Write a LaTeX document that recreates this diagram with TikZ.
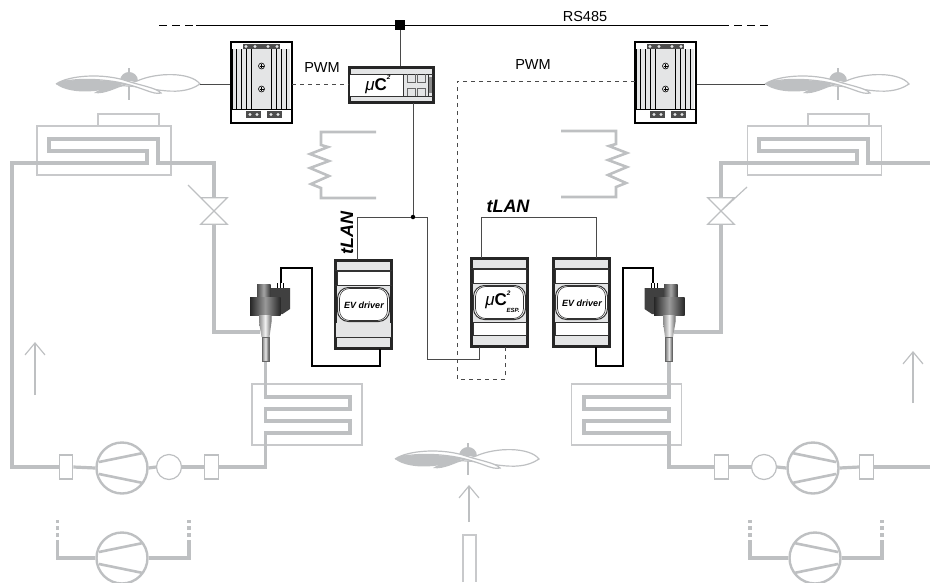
\documentclass[tikz,border=0pt]{standalone}
\usepackage{fontspec}
\setmainfont{Liberation Sans}
\usetikzlibrary{arrows.meta}
\definecolor{pipegray}{HTML}{BEC0C2}
\definecolor{casegray}{HTML}{E4E5E6}
\definecolor{wiregray}{HTML}{4A4A4A}
\tikzset{
    pipe/.style={draw=pipegray,line width=3.2pt,line join=miter},
    pipedash/.style={draw=pipegray,line width=3.2pt,dash pattern=on 4pt off 3pt},
    thinpipe/.style={draw=pipegray,line width=1.2pt},
    coilbox/.style={draw=pipegray!85,line width=1.2pt,inner sep=0pt},
    filterbox/.style={draw=pipegray,fill=white,line width=1.2pt,inner sep=0pt,minimum width=13.5,minimum height=24},
    ballbox/.style={circle,draw=pipegray,fill=white,line width=1.2pt,inner sep=0pt,minimum size=25},
    compbox/.style={circle,draw=pipegray,fill=white,line width=2.4pt,inner sep=0pt,minimum size=51},
    valvebox/.style={inner sep=0pt,minimum width=26,minimum height=26},
    flowarrow/.style={draw=pipegray,line width=1.2pt,-{Straight Barb[length=12pt,width=20pt,line width=1.2pt]}},
    wire/.style={draw=black,line width=1.1pt},
    bus/.style={draw=wiregray,line width=1pt},
    pwmline/.style={draw=wiregray,line width=1pt,dash pattern=on 4pt off 4pt},
    casebox/.style={draw=black!85,line width=2.2pt,fill=casegray,inner sep=0pt,minimum width=56,minimum height=88},
    casewin/.style={draw=black!80,line width=.8pt,fill=white},
    txt/.style={inner sep=0pt,font=\fontsize{14.5}{16}\selectfont},
    tlan/.style={inner sep=0pt,font=\fontsize{18}{20}\selectfont\bfseries\itshape},
    evtxt/.style={inner sep=0pt,font=\fontsize{9}{10}\selectfont\bfseries\itshape},
}
\newcommand{\mucname}{\textit{μ}\textbf{C}\raisebox{.62em}{\fontsize{6.5}{7}\selectfont\bfseries\itshape 2}}
\newcommand{\drawfan}[2]{%
    \begin{scope}[shift={(#2)}]
        \draw[thinpipe] (0,-16) -- (0,16);
        \fill[pipegray] (-9,-3) .. controls (-9,-9) and (-4,-12) .. (0,-12) .. controls (4,-12) and (9,-9) .. (9,-3) -- cycle;
        \fill[pipegray] (-73,0) .. controls (-60,-6) and (-30,-5) .. (-4,-1) .. controls (-22,8) and (-58,12) .. (-73,0) -- cycle;
        \fill[pipegray] (-35,9) .. controls (-28,4) and (-15,2) .. (0,0) .. controls (-12,3) and (-24,11) .. (-35,9) -- cycle;
        \draw[thinpipe,fill=white] (-10,2) .. controls (15,0) and (48,16) .. (71,0) .. controls (62,-12) and (28,-12) .. (8,-3) -- (-10,2) -- cycle;
        \draw[thinpipe,fill=white] (-73,0) .. controls (-60,-9) and (-25,-11) .. (-2,-3) .. controls (10,1) and (28,4) .. (32,9) .. controls (24,11) and (15,4) .. (-7,-1) .. controls (-30,-6) and (-60,-6) .. (-73,0) -- cycle;
        \coordinate (#1w) at (-73,0);
        \coordinate (#1e) at (71,0);
    \end{scope}}
\newcommand{\drawcomp}[4]{%
    \begin{scope}[shift={(#2,#3)},xscale=#4]
        \node[compbox] (#1) at (0,0) {};
        \draw[pipe,line width=2.6pt] (-23,-6) -- (21,-15);
        \draw[pipe,line width=2.6pt] (-23,6) -- (21,15);
    \end{scope}}
\newcommand{\drawpwm}[2]{%
    \begin{scope}[shift={(#2,42)}]
        \node[draw=black,fill=white,line width=1.8pt,inner sep=0pt,minimum width=61,minimum height=81] (#1) at (30.5,40.5) {};
        \fill[casegray] (2,7) rectangle (59,67);
        \foreach \fx in {1.5,5.7,10.7,15.7,20.7,40,45.7,50.7,55.7}
            \draw[black,line width=.6pt] (\fx,7) -- (\fx,67);
        \draw[black,line width=1pt] (1,67) -- (60,67);
        \fill[black!70] (12,2) rectangle (49,7);
        \fill[black!70] (15,69) rectangle (30,76);
        \fill[black!70] (36,69) rectangle (51,76);
        \foreach \sx/\sy in {15/4.5,24/4.5,37/4.5,46/4.5,19/72.5,26/72.5,40/72.5,47/72.5}
            \fill[casegray] (\sx,\sy) circle[radius=1.7];
        \foreach \sy in {24,47}{
            \draw[black,line width=.6pt] (30.5,\sy) circle[radius=3];
            \draw[black,line width=.6pt] (28.5,\sy) -- (32.5,\sy) (30.5,\sy-2) -- (30.5,\sy+2);
        }
    \end{scope}}
\newcommand{\drawcase}[3]{%
    \begin{scope}[shift={(#2,#3)}]
        \node[casebox] (#1) at (28.5,44.5) {};
        \draw[casewin] (2,11) rectangle (55,25);
        \draw[casewin,fill=white,rounded corners=11pt,line width=1pt] (2.5,27.5) rectangle (54.5,61.5);
        \draw[casewin,fill=white,rounded corners=10pt,line width=.6pt] (4.5,28.5) rectangle (52.5,60.5);
        \draw[black!80,line width=.8pt] (0,25.5) -- (57,25.5) (0,10) -- (57,10);
    \end{scope}}
\newcommand{\drawexv}[3]{%
    \begin{scope}[shift={(#2,0)},xscale=#3]
        \draw[black,line width=.7pt] (12,288) -- (12,282.5) (15,288) -- (15,282.5) (18,288) -- (18,282.5);
        \fill[black!75] (4,288) -- (24.5,288) -- (24.5,309) -- (17,314) -- (4,314) -- cycle;
        \shade[left color=black!70,right color=black!80,middle color=black!35] (-8.5,284) rectangle (5,297);
        \shade[left color=black!85,right color=black!85,middle color=black!40] (-15.5,297) rectangle (15,315);
        \shade[left color=black!45,right color=black!60,middle color=black!5] (-6.5,315) -- (6,315) -- (6,322) -- (4,337) -- (-4,337) -- (-6.5,322) -- cycle;
        \node[draw=black!60,line width=.7pt,left color=black!50,right color=black!70,middle color=black!10,inner sep=0pt,minimum width=7,minimum height=24.5] (#1) at (0,349.5) {};
    \end{scope}}
\begin{document}
    \begin{tikzpicture}[x=1pt,y=-1pt]
        \useasboundingbox (0,0) rectangle (930,582);
        \clip (0,0) rectangle (930,582);
        \node[coilbox,minimum width=134,minimum height=49] (condL) at (104,150.5) {};
        \node[coilbox,minimum width=61,minimum height=12] (condLtop) at (128.5,120) {};
        \node[coilbox,minimum width=134,minimum height=49] (condR) at (814.5,150.5) {};
        \node[coilbox,minimum width=61,minimum height=12] (condRtop) at (838.5,120) {};
        \node[coilbox,minimum width=110,minimum height=61] (evapL) at (307,414.5) {};
        \node[coilbox,minimum width=110,minimum height=61] (evapR) at (626.5,414.5) {};
        \node[valvebox] (valveL) at (214,211) {};
        \node[valvebox] (valveR) at (721,211) {};
        \draw[thinpipe] (valveL.north west) -- (valveL.north east) -- (valveL.south west) -- (valveL.south east) -- cycle (188,185) -- (valveL.center);
        \draw[thinpipe] (valveR.north west) -- (valveR.north east) -- (valveR.south west) -- (valveR.south east) -- cycle (747,187) -- (valveR.center);

        \drawcomp{compL}{122}{468}{1}
        \drawcomp{compR}{813}{468}{-1}
        \drawcomp{compLb}{122}{558}{1}
        \drawcomp{compRb}{815}{558}{-1}
        \node[filterbox] (filtLa) at (66,467) {};
        \node[filterbox] (filtLb) at (211.5,467) {};
        \node[ballbox] (ballL) at (169,467) {};
        \node[filterbox] (filtRa) at (721.5,467) {};
        \node[filterbox] (filtRb) at (866.5,467) {};
        \node[ballbox] (ballR) at (764,467) {};
        \drawexv{stemL}{265.5}{1}
        \drawexv{stemR}{669}{-1}

        \draw[pipe] (filtLa.west) -- (12,467) -- (12,163) -- (147,163) -- (147,151) -- (49,151) -- (49,139) -- (158,139) -- (158,163) -- (214,163) -- (valveL.north);
        \draw[pipe] (valveL.south) -- (214,332) -- (230,332);
        \draw[pipe,line width=4.5pt] (230,332) -- (260,332);
        \draw[pipe] (stemL.south) -- (265.5,397) -- (350,397) -- (350,409) -- (265.5,409) -- (265.5,421) -- (350,421) -- (350,433) -- (265.5,433) -- (265.5,467) -- (filtLb.east);
        \draw[pipe] (filtLb.west) -- (ballL.east);
        \draw[pipe] (ballL.west) -- (compL.east);
        \draw[pipe] (compL.west) -- (filtLa.east);
        \draw[pipe] (930,163) -- (868,163) -- (868,139) -- (759,139) -- (759,151) -- (857,151) -- (857,163) -- (721,163) -- (valveR.north);
        \draw[pipe] (valveR.south) -- (721,332) -- (705,332);
        \draw[pipe,line width=4.5pt] (705,332) -- (674,332);
        \draw[pipe] (stemR.south) -- (669,397) -- (584,397) -- (584,409) -- (669,409) -- (669,421) -- (584,421) -- (584,433) -- (669,433) -- (669,467) -- (filtRa.west);
        \draw[pipe] (filtRa.east) -- (ballR.west);
        \draw[pipe] (ballR.east) -- (compR.west);
        \draw[pipe] (compR.east) -- (filtRb.west);
        \draw[pipe] (filtRb.east) -- (930,467);

        \draw[pipe] (compLb.west) -- (57.5,558) -- (57.5,544);
        \draw[pipedash] (57.5,544) -- (57.5,520);
        \draw[pipe] (compLb.east) -- (189,558) -- (189,544);
        \draw[pipedash] (189,544) -- (189,520);
        \draw[pipe] (compRb.west) -- (750,558) -- (750,544);
        \draw[pipedash] (750,544) -- (750,520);
        \draw[pipe] (compRb.east) -- (882,558) -- (882,544);
        \draw[pipedash] (882,544) -- (882,520);

        \draw[pipe,line width=2.6pt] (376,132) -- (321,132) -- (321,145) -- (328,147) -- (310,154) -- (329,161) -- (310,168) -- (329,176) -- (311,184) -- (321,188) -- (321,198) -- (376,198);
        \draw[pipe,line width=2.6pt] (561,131) -- (616,131) -- (616,144) -- (609,146) -- (627,153) -- (608,160) -- (627,167) -- (608,175) -- (626,183) -- (616,187) -- (616,197) -- (561,197);

        \draw[flowarrow] (35,395) -- (35,342);
        \draw[flowarrow] (913,403) -- (913,351);
        \draw[flowarrow] (469,522) -- (469,485);
        \draw[coilbox] (463,582) -- (463,535) -- (476,535) -- (476,582);

        \drawfan{fanL}{129,84}
        \drawfan{fanR}{838,84}
        \drawfan{fanC}{468,459}

        \draw[black,line width=.9pt,dash pattern=on 8pt off 5pt] (159,25) -- (193,25);
        \draw[black,line width=.9pt] (196,25) -- (729,25);
        \draw[black,line width=.9pt,dash pattern=on 8pt off 5pt] (734,25) -- (768,25);
        \node[fill=black,inner sep=0pt,minimum size=10] (busJ) at (400,25) {};
        \node[txt] (rsLabel) at (585,17) {RS485};
        \node[txt] (pwmLabelL) at (322,68) {PWM};
        \node[txt] (pwmLabelR) at (533,65) {PWM};

        \drawpwm{pwmL}{231}
        \drawpwm{pwmR}{635}
        \draw[bus] (fanLe) -- (pwmL.west |- fanLe);
        \draw[bus] (pwmR.east |- fanRw) -- (fanRw);

        \node[draw=black!85,line width=2.2pt,fill=casegray,inner sep=0pt,minimum width=84,minimum height=35] (uC) at (391.5,85) {};
        \fill[white] (350,74.5) rectangle (403,95.5);
        \draw[black!80,line width=.8pt] (350,74) -- (433,74) (350,96) -- (433,96) (403,74) -- (403,96) (428,74) -- (428,96);
        \draw[black!60,line width=.5pt] (407,74) -- (407,82) -- (415,82) -- (415,74) (417,74) -- (417,82) -- (425,82) -- (425,74) (407,96) -- (407,88) -- (415,88) -- (415,96) (417,96) -- (417,88) -- (425,88) -- (425,96);
        \fill[black!45] (429,77) rectangle (432,93);
        \node[inner sep=0pt,font=\fontsize{17}{18}\selectfont] (uCtxt) at (378,84.5) {\mucname};

        \drawcase{evL}{335}{260}
        \drawcase{uCesp}{471}{258}
        \drawcase{evR}{553}{258}
        \fill[casegray] (336,322.5) rectangle (391,337);
        \draw[black!80,line width=.8pt] (335,337) -- (392,337);
        \draw[casewin] (473,322) rectangle (526,335);
        \draw[casewin] (555,322) rectangle (608,335);
        \node[evtxt] (evLtxt) at (364,305) {EV driver};
        \node[evtxt] (evRtxt) at (582,303) {EV driver};
        \node[inner sep=0pt,font=\fontsize{17}{18}\selectfont] (uCesptxt) at (498,300) {\mucname};
        \node[inner sep=0pt,font=\fontsize{6}{7}\selectfont\bfseries\itshape] (esptxt) at (513,310) {ESP.};
        \node[tlan,rotate=90] (tlanL) at (347,233) {tLAN};
        \node[tlan] (tlanR) at (508,206) {tLAN};

        \coordinate (uCwest) at (349,84);
        \coordinate (pwmLout) at (292,84);
        \coordinate (pwmRout) at (635,81);
        \coordinate (uCbus) at (413,103);
        \coordinate (evLtop) at (357,260);
        \coordinate (evLbot) at (380,349);
        \coordinate (evRbot) at (596,347);
        \coordinate (evRtop) at (596,258);
        \coordinate (espTopL) at (481,258);
        \coordinate (espBotL) at (479,347);
        \coordinate (espBotR) at (505,347);
        \coordinate (coilL) at (281,283);
        \coordinate (coilR) at (653,283);
        \node[circle,fill=black,inner sep=0pt,minimum size=4.5] (tlanJ) at (413,217) {};
        \draw[pwmline] (pwmLout) -- (uCwest);
        \draw[pwmline] (pwmRout) -- (457,81) -- (457,379) -- (505,379) -- (espBotR);
        \draw[bus] (busJ) -- (busJ |- uC.north);
        \draw[bus] (uCbus) -- (tlanJ);
        \draw[bus] (evLtop) -- (357,217) -- (tlanJ) -- (427,217) -- (427,359) -- (479,359) -- (espBotL);
        \draw[bus] (espTopL) -- (481,217) -- (596,217) -- (evRtop);
        \draw[wire] (evLbot) -- (380,366) -- (312,366) -- (312,268) -- (281,268) -- (coilL);
        \draw[wire] (evRbot) -- (596,366) -- (623,366) -- (623,268) -- (653,268) -- (coilR);
    \end{tikzpicture}
\end{document}
